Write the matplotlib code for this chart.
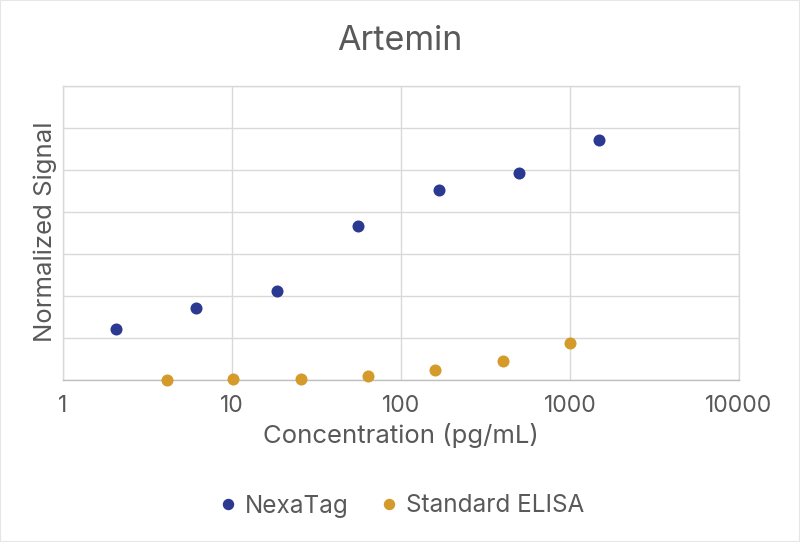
import matplotlib
matplotlib.use("Agg")
import matplotlib.pyplot as plt
from matplotlib.lines import Line2D

plt.rcParams["font.family"] = ["Inter", "DejaVu Sans"]

# concentrations (pg/mL) and normalized signal
nexatag_conc = [2.06, 6.15, 18.5, 56, 167, 500, 1490]
nexatag_signal = [1.21, 1.72, 2.12, 3.67, 4.52, 4.92, 5.71]
elisa_conc = [4.1, 10.2, 25.6, 64, 160, 400, 1000]
elisa_signal = [0.01, 0.02, 0.03, 0.10, 0.23, 0.46, 0.89]
x_ticks = [1, 10, 100, 1000, 10000]
x_tick_labels = ["1", "10", "100", "1000", "10000"]

BLUE = "#2B3990"
GOLD = "#D49A2A"
TEXT = "#595959"
GRID = "#D9D9D9"

W, H = 800, 542
fig = plt.figure(figsize=(W / 100, H / 100), dpi=100)
ax = fig.add_axes([63 / W, 1 - 380 / H, 676 / W, 294 / H])

ax.scatter(nexatag_conc, nexatag_signal, s=75, color=BLUE, zorder=3, linewidths=0)
ax.scatter(elisa_conc, elisa_signal, s=75, color=GOLD, zorder=3, linewidths=0,
           clip_on=False)

ax.set_xscale("log")
ax.set_xlim(1, 10000)
ax.set_ylim(0, 7)
ax.set_xticks(x_ticks)
ax.set_xticklabels(x_tick_labels)
ax.minorticks_off()
ax.set_yticks(range(8))
ax.set_yticklabels([])
ax.grid(True, color=GRID, lw=1.0)
ax.set_axisbelow(True)
ax.tick_params(length=0, labelsize=16.5, labelcolor=TEXT, pad=11)
for sp in ax.spines.values():
    sp.set_color(GRID)
    sp.set_linewidth(1.0)
ax.spines["bottom"].set_color("#BFBFBF")

fig.text(401 / W, 1 - 443.5 / H, "Concentration (pg/mL)", ha="center",
         va="baseline", fontsize=18.5, color=TEXT)
fig.text(45 / W, 1 - 232 / H, "Normalized Signal", ha="center", va="center",
         rotation=90, fontsize=18.5, color=TEXT)
fig.text(400 / W, 1 - 50.5 / H, "Artemin", ha="center", va="baseline",
         fontsize=24.5, color=TEXT)

handles = [
    Line2D([], [], marker="o", ls="", color=BLUE, markersize=7.2),
    Line2D([], [], marker="o", ls="", color=GOLD, markersize=7.2),
]
fig.legend(handles, ["NexaTag", "Standard ELISA"], loc="center",
           bbox_to_anchor=(0.5, 1 - 506 / H), ncol=2, frameon=False,
           fontsize=17.5, labelcolor=TEXT, handletextpad=0.2,
           columnspacing=1.15, handlelength=1.0)

border = plt.Rectangle((0, 0), 1, 1, transform=fig.transFigure, fill=False,
                       edgecolor="#E6E6E6", lw=1.5)
fig.patches.append(border)

fig.savefig("out.png", dpi=100)
